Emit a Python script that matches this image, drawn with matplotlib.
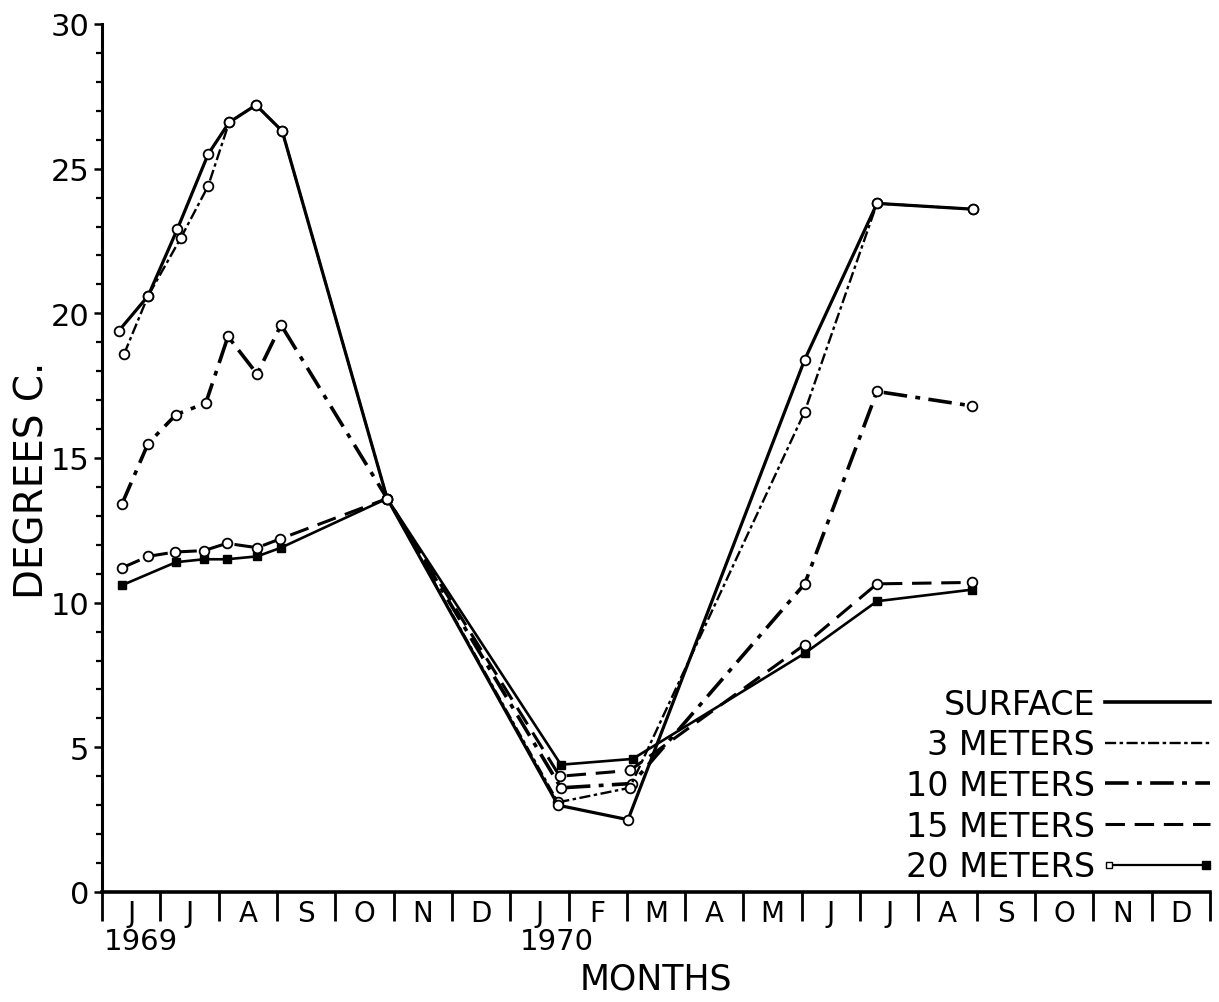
import matplotlib
matplotlib.use('Agg')
import matplotlib.pyplot as plt
from matplotlib.lines import Line2D
from matplotlib.legend_handler import HandlerBase

plt.rcParams['font.family'] = ['DejaVu Sans']
plt.rcParams['lines.scale_dashes'] = False

# ---------------- data ----------------
# x = months since 1 June 1969 (0 = start of June 1969)
month_labels = ['J', 'J', 'A', 'S', 'O', 'N', 'D', 'J', 'F', 'M',
                'A', 'M', 'J', 'J', 'A', 'S', 'O', 'N', 'D']
year_labels = ['1969', '1970']
year_pos = [0.03, 7.17]

surface_x = [0.29, 0.79, 1.29, 1.82, 2.18, 2.64, 3.09, 4.89, 7.82, 9.02, 12.05, 13.29, 14.93]
surface_y = [19.4, 20.6, 22.9, 25.5, 26.6, 27.2, 26.3, 13.6, 3.0, 2.5, 18.4, 23.8, 23.6]

m3_x = [0.38, 0.79, 1.35, 1.82, 2.18, 2.64, 3.09, 4.89, 7.82, 9.05, 12.05, 13.29, 14.93]
m3_y = [18.6, 20.6, 22.6, 24.4, 26.6, 27.2, 26.3, 13.6, 3.1, 3.6, 16.6, 23.8, 23.6]

m10_x = [0.34, 0.79, 1.27, 1.78, 2.16, 2.66, 3.07, 4.89, 7.87, 9.09, 12.05, 13.29, 14.92]
m10_y = [13.4, 15.5, 16.5, 16.9, 19.2, 17.9, 19.6, 13.6, 3.6, 3.75, 10.65, 17.3, 16.8]

m15_x = [0.34, 0.79, 1.25, 1.75, 2.14, 2.66, 3.05, 4.89, 7.85, 9.05, 12.05, 13.29, 14.92]
m15_y = [11.2, 11.6, 11.75, 11.8, 12.05, 11.9, 12.2, 13.6, 4.0, 4.2, 8.55, 10.65, 10.7]

m20_x = [0.34, 1.27, 1.75, 2.14, 2.66, 3.07, 4.89, 7.87, 9.10, 12.05, 13.29, 14.92]
m20_y = [10.6, 11.4, 11.5, 11.5, 11.6, 11.9, 13.6, 4.4, 4.6, 8.25, 10.05, 10.45]

series_names = ['SURFACE', '3 METERS', '10 METERS', '15 METERS', '20 METERS']

# ---------------- styles ----------------
ls_surface = '-'
ls_3 = (0, (8, 2.5, 2.5, 2.5))
ls_10 = (0, (17, 6, 3.5, 6))
ls_15 = (0, (14, 7))
ls_20 = '-'

circ = dict(marker='o', ms=7, mfc='white', mec='black', mew=1.3)

fig = plt.figure(figsize=(12.19, 10.03), dpi=100)
ax = fig.add_axes([102 / 1219, (1003 - 893) / 1003, (1210 - 102) / 1219, (893 - 25) / 1003])

ax.plot(m20_x, m20_y, color='black', lw=1.9, ls=ls_20, marker='s', ms=5.5,
        mfc='black', mec='black', zorder=2)
ax.plot(m15_x, m15_y, color='black', lw=2.2, ls=ls_15, zorder=3, **circ)
ax.plot(m10_x, m10_y, color='black', lw=2.6, ls=ls_10, zorder=3, **circ)
ax.plot(m3_x, m3_y, color='black', lw=1.7, ls=ls_3, zorder=3, **circ)
ax.plot(surface_x, surface_y, color='black', lw=2.3, ls=ls_surface, zorder=4, **circ)

ax.set_xlim(0, 19)
ax.set_ylim(0, 30)

for s in ['top', 'right']:
    ax.spines[s].set_visible(False)
ax.spines['left'].set_linewidth(2.2)
ax.spines['bottom'].set_linewidth(2.6)

# y axis
ax.set_yticks(range(0, 31, 5))
ax.set_yticks(range(0, 31), minor=True)
ax.tick_params(axis='y', which='major', direction='out', length=6, width=1.8,
               labelsize=22, pad=3)
ax.tick_params(axis='y', which='minor', direction='out', length=4.5, width=1.6)

# x axis: boundaries as ticks, labels centred in month cells
ax.set_xticks(range(0, 20))
ax.set_xticklabels([])
ax.set_xticks([i + 0.5 for i in range(19)], minor=True)
ax.set_xticklabels(month_labels, minor=True)
ax.tick_params(axis='x', which='major', direction='out', length=21, width=2)
ax.tick_params(axis='x', which='minor', length=0, labelsize=20, pad=5)

for lab, xp in zip(year_labels, year_pos):
    ax.annotate(lab, xy=(xp, 0), xycoords=('data', 'axes fraction'),
                xytext=(0, -25), textcoords='offset points',
                ha='left', va='top', fontsize=21)

ax.set_xlabel('MONTHS', fontsize=25, labelpad=25)
ax.set_ylabel('DEGREES C.', fontsize=28)
ax.yaxis.set_label_coords(-0.046, 0.475)


# ---------------- legend ----------------
class Handler20m(HandlerBase):
    def create_artists(self, legend, orig_handle, xdescent, ydescent,
                       width, height, fontsize, trans):
        y = (height - ydescent) / 2
        x0 = -xdescent
        x1 = width - xdescent
        line = Line2D([x0 + 3, x1 - 3], [y, y], color='black',
                      lw=orig_handle.get_linewidth(), transform=trans)
        m_open = Line2D([x0 + 3], [y], ls='none', marker='s', ms=4,
                        mfc='white', mec='black', mew=1, transform=trans)
        m_fill = Line2D([x1 - 3], [y], ls='none', marker='s', ms=6,
                        mfc='black', mec='black', transform=trans)
        return [line, m_open, m_fill]


h_surf = Line2D([], [], color='black', lw=2.6, ls=ls_surface)
h_3 = Line2D([], [], color='black', lw=1.7, ls=ls_3)
h_10 = Line2D([], [], color='black', lw=2.6, ls=ls_10)
h_15 = Line2D([], [], color='black', lw=2.2, ls=ls_15)
h_20 = Line2D([], [], color='black', lw=1.6, ls=ls_20, ms=6)

leg = ax.legend([h_surf, h_3, h_10, h_15, h_20], series_names,
                loc='lower right', bbox_to_anchor=(1.0, 0.01),
                frameon=False, markerfirst=False, fontsize=24,
                handlelength=3.15, handletextpad=0.3, labelspacing=0.23,
                borderpad=0, borderaxespad=0,
                handler_map={h_20: Handler20m()})

fig.savefig('out.png', dpi=100)
